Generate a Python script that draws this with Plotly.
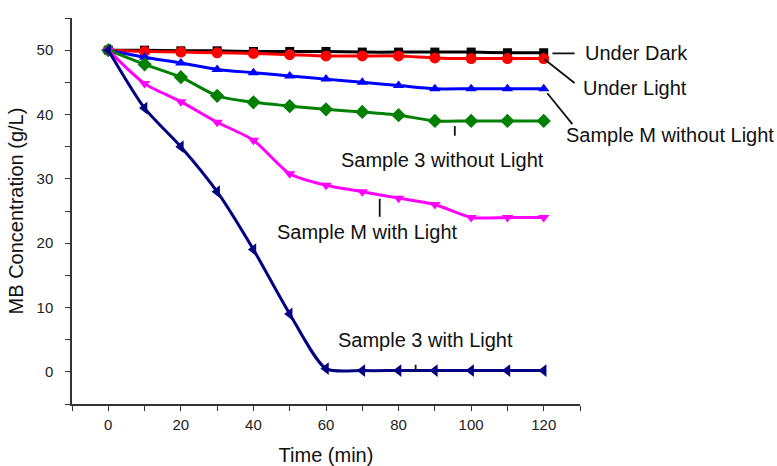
import plotly.graph_objects as go

# Sampling times (min)
time_min = [0, 10, 20, 30, 40, 50, 60, 70, 80, 90, 100, 110, 120]

# MB concentration (g/L) for each condition
under_dark = [50, 50, 49.9, 49.9, 49.8, 49.8, 49.8, 49.7, 49.7, 49.7, 49.7, 49.6, 49.6]
under_light = [50, 49.8, 49.7, 49.6, 49.5, 49.3, 49.1, 49.1, 49.1, 48.8, 48.7, 48.7, 48.7]
sample_m_dark = [50, 48.9, 48.0, 47.0, 46.5, 46.0, 45.5, 45.0, 44.5, 44.0, 44.0, 44.0, 44.0]
sample_3_dark = [50, 47.8, 45.8, 42.9, 41.9, 41.3, 40.8, 40.4, 39.9, 39.0, 39.0, 39.0, 39.0]
sample_m_light = [50, 44.8, 42.0, 38.8, 36.0, 30.8, 29.0, 28.0, 27.0, 26.0, 24.0, 24.0, 24.0]
sample_3_light = [50, 41.0, 35.0, 28.0, 19.0, 9.0, 0.5, 0.2, 0.2, 0.2, 0.2, 0.2, 0.2]

x_major_ticks = [0, 20, 40, 60, 80, 100, 120]
y_major_ticks = [0, 10, 20, 30, 40, 50]

X_RANGE = [-10, 130]
Y_RANGE = [-5, 55]
FONT = "Arial, Liberation Sans, sans-serif"

series = [
    ("Under Dark", under_dark, "#000000", "square", 9),
    ("Under Light", under_light, "#FF0000", "circle", 11),
    ("Sample M without Light", sample_m_dark, "#0000FF", "triangle-up", 10),
    ("Sample 3 without Light", sample_3_dark, "#008000", "diamond", 11),
    ("Sample M with Light", sample_m_light, "#FF00FF", "triangle-down", 10),
    ("Sample 3 with Light", sample_3_light, "#000080", "triangle-left", 11),
]

fig = go.Figure()
for name, vals, color, symbol, size in series:
    fig.add_trace(go.Scatter(
        x=time_min, y=vals, name=name, mode="lines+markers",
        line=dict(color=color, width=3, shape="spline", smoothing=0.7),
        marker=dict(color=color, symbol=symbol, size=size),
        cliponaxis=False,
    ))

# Series labels (text anchor in data units) and their leader lines
labels = [
    ("Under Dark", 130.7, 49.5, "left"),
    ("Under Light", 130.4, 44.1, "left"),
    ("Sample M without Light", 125.7, 36.8, "left"),
    ("Sample 3 without Light", 92.2, 33.0, "center"),
    ("Sample M with Light", 71.3, 21.7, "center"),
    ("Sample 3 with Light", 87.5, 5.0, "center"),
]
leaders = [
    (122.4, 49.5, 128.5, 49.5),
    (120.2, 48.6, 128.5, 44.9),
    (121.0, 43.3, 127.9, 38.5),
    (95.5, 38.2, 95.5, 36.7),
    (74.8, 26.9, 74.8, 24.1),
    (84.7, 1.1, 84.7, 0.15),
]

for text, lx, ly, anchor in labels:
    # labels sitting right of the x range are placed in paper units so they stay visible
    px = (lx - X_RANGE[0]) / (X_RANGE[1] - X_RANGE[0])
    fig.add_annotation(x=px, xref="paper", y=ly, yref="y", text=text,
                       showarrow=False, xanchor=anchor, yanchor="middle",
                       font=dict(family=FONT, size=20, color="#111111"))

for x0, y0, x1, y1 in leaders:
    fig.add_shape(type="line", x0=x0, y0=y0, x1=x1, y1=y1,
                  xref="x", yref="y", line=dict(color="#111111", width=1.8))

axis_common = dict(
    showgrid=False, zeroline=False, showline=True, automargin=False,
    linecolor="#333333", linewidth=1.5,
    ticks="outside", ticklen=5, tickwidth=1.3, tickcolor="#333333",
    tickfont=dict(family=FONT, size=15, color="#222222"),
)

fig.update_xaxes(
    range=X_RANGE, tickvals=x_major_ticks, ticklabelstandoff=1,
    minor=dict(ticks="outside", ticklen=5, tickwidth=1.3, tickcolor="#333333",
               dtick=10, tick0=0),
    title=dict(text="Time (min)", font=dict(family=FONT, size=20, color="#111111"),
               standoff=16),
    **axis_common,
)
fig.update_yaxes(
    range=Y_RANGE, tickvals=y_major_ticks, ticklabelstandoff=9,
    minor=dict(ticks="outside", ticklen=5, tickwidth=1.3, tickcolor="#333333",
               dtick=5, tick0=0),
    title=dict(text="MB Concentration (g/L)",
               font=dict(family=FONT, size=20, color="#111111"), standoff=8),
    **axis_common,
)

fig.update_layout(
    width=777, height=466,
    margin=dict(l=72, r=197, t=18, b=62),
    paper_bgcolor="white", plot_bgcolor="white",
    showlegend=False,
)

fig.write_html("out.html")
